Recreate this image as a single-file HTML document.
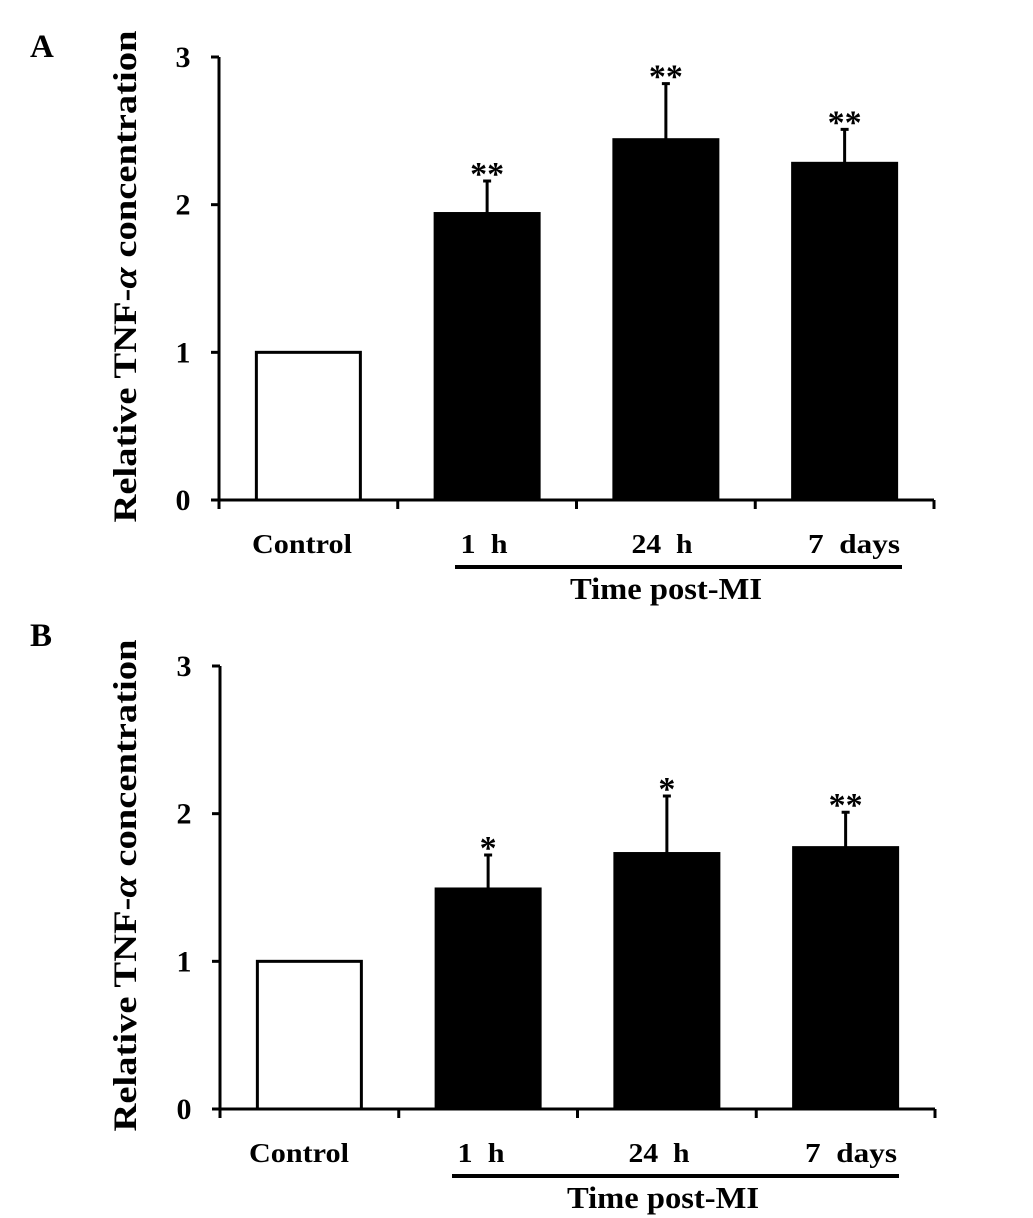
<!DOCTYPE html>
<html><head><meta charset="utf-8"><style>
html,body{margin:0;padding:0;background:#fff;}
svg{display:block;font-family:"Liberation Serif",serif;font-weight:bold;}
</style></head><body>
<svg id="chart" width="1033" height="1218" viewBox="0 0 1033 1218" xmlns="http://www.w3.org/2000/svg"></svg>
<script>
const categories = ["Control", "1  h", "24  h", "7  days"];
const valuesA = [1.0, 1.94, 2.44, 2.28];
const errorsA = [0, 0.22, 0.38, 0.23];
const starsA = ["", "**", "**", "**"];
const valuesB = [1.0, 1.49, 1.73, 1.77];
const errorsB = [0, 0.23, 0.39, 0.24];
const starsB = ["", "*", "*", "**"];
const yTicks = [0, 1, 2, 3];

const NS = "http://www.w3.org/2000/svg";
const svg = document.getElementById("chart");
function mk(tag, attrs, parent) {
  const e = document.createElementNS(NS, tag);
  for (const k in attrs) e.setAttribute(k, attrs[k]);
  (parent || svg).appendChild(e);
  return e;
}

function panel(id, letter, values, errors, stars, o) {
  const g = mk("g", {});
  
  
  const x0 = o.axisX, y0 = o.zeroY, unit = (o.zeroY - o.topY) / 3;
  const catW = 178.75, barW = 104;
  const yS = v => y0 - v * unit;
  const xC = i => x0 + catW * (i + 0.5);

  const L = mk("text", {x: 30, y: o.letterY, "font-size": 33}, g);
  L.textContent = letter;
  
  

  const t = mk("text", {transform: `translate(${o.titleX},${(o.topY + y0) / 2 - 2}) rotate(-90)`, "text-anchor": "middle", "font-size": 33, textLength: 492, lengthAdjust: "spacingAndGlyphs"}, g);
  t.innerHTML = 'Relative TNF-<tspan font-style="italic">α</tspan> concentration';
  
  

  values.forEach((v, i) => {
    const b = mk("rect", {x: xC(i) - barW / 2, y: yS(v), width: barW, height: y0 - yS(v),
      fill: i === 0 ? "#fff" : "#000", stroke: "#000", "stroke-width": 3}, g);
    
    
    if (errors[i] > 0) {
      const e = mk("path", {d: `M${xC(i)},${yS(v)}V${yS(v + errors[i])}M${xC(i) - 4},${yS(v + errors[i])}H${xC(i) + 4}`, stroke: "#000", "stroke-width": 3, fill: "none"}, g);
      
      
    }
    if (stars[i]) {
      const s = mk("text", {x: xC(i), y: yS(v + errors[i]) + 4, "text-anchor": "middle", "font-size": 34}, g);
      s.textContent = stars[i];
      
      
    }
  });

  const ax = mk("path", {d: `M${x0},${o.topY}V${y0}H${x0 + catW * 4}`, stroke: "#000", "stroke-width": 3, fill: "none"}, g);
  
  
  yTicks.forEach(v => {
    const tk = mk("line", {x1: x0 - 8, x2: x0, y1: yS(v), y2: yS(v), stroke: "#000", "stroke-width": 3}, g);
    
    
    const tl = mk("text", {x: x0 - 36, y: yS(v) + 10, "text-anchor": "middle", "font-size": 30}, g);
    tl.textContent = v;
    
    
  });
  for (let i = 0; i <= 4; i++) {
    const tk = mk("line", {x1: x0 + catW * i, x2: x0 + catW * i, y1: y0, y2: y0 + 9, stroke: "#000", "stroke-width": 3}, g);
    
    
  }
  const lens = [100, 47, 61, 92];
  const lx = [302 + o.dx, 484 + o.dx, 662 + o.dx, 854 + o.dx];
  categories.forEach((c, i) => {
    const cl = mk("text", {x: lx[i], y: y0 + 53, "text-anchor": "middle", "font-size": 27, textLength: lens[i], lengthAdjust: "spacingAndGlyphs"}, g);
    cl.textContent = c;
    cl.style.whiteSpace = "pre";
    
    
  });
  const ln = mk("line", {x1: 455 + o.dx, x2: 902 + o.dx, y1: y0 + 67, y2: y0 + 67, stroke: "#000", "stroke-width": 4}, g);
  
  
  const gt = mk("text", {x: 666 + o.dx, y: y0 + 99, "text-anchor": "middle", "font-size": 31, textLength: 192, lengthAdjust: "spacingAndGlyphs"}, g);
  gt.textContent = "Time post-MI";
  
  
}

panel("a", "A", valuesA, errorsA, starsA, {axisX: 219, topY: 57, zeroY: 500, titleX: 136, letterY: 57, dx: 0});
panel("b", "B", valuesB, errorsB, starsB, {axisX: 220, topY: 666, zeroY: 1109, titleX: 136, letterY: 646, dx: -3});
</script>
</body></html>
